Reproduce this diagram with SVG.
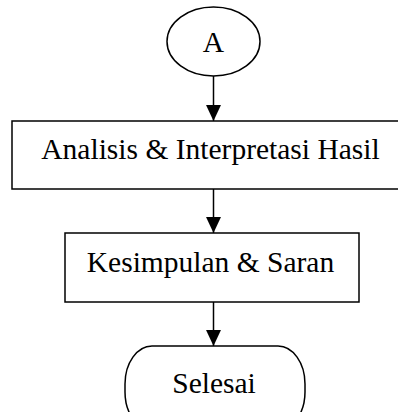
<svg xmlns="http://www.w3.org/2000/svg" width="398" height="412" viewBox="0 0 398 412">
<style>
.s{fill:#fff;stroke:#000;stroke-width:1.5}
.t{font-family:"Liberation Serif","Times New Roman",serif;font-size:29.5px;fill:#000;text-anchor:middle}
.c{stroke:#000;stroke-width:1.5;fill:none;marker-end:url(#ah)}
</style>
<defs>
<marker id="ah" markerUnits="userSpaceOnUse" markerWidth="16" markerHeight="16" refX="15" refY="7" orient="auto" viewBox="0 0 15 14">
<path d="M0,0 L15,7 L0,14 Z" fill="#000"/>
</marker>
</defs>
<rect width="398" height="412" fill="#fff"/>
<g id="connectors">
<line class="c" x1="213.5" y1="76" x2="213.5" y2="121"/>
<line class="c" x1="213.5" y1="189" x2="213.5" y2="233"/>
<line class="c" x1="213.5" y1="302" x2="213.5" y2="346"/>
</g>
<g id="nodeA">
<ellipse class="s" cx="213.5" cy="41.5" rx="46.5" ry="34.5"/>
<text class="t" x="213.5" y="52">A</text>
</g>
<g id="analisis">
<rect class="s" x="12" y="121" width="400" height="68"/>
<text class="t" x="210.5" y="159">Analisis &amp; Interpretasi Hasil</text>
</g>
<g id="kesimpulan">
<rect class="s" x="65" y="233" width="294" height="69"/>
<text class="t" x="210.5" y="272">Kesimpulan &amp; Saran</text>
</g>
<g id="selesai">
<rect class="s" x="125" y="346" width="180" height="84" rx="27" ry="38"/>
<text class="t" x="214" y="393">Selesai</text>
</g>
</svg>
